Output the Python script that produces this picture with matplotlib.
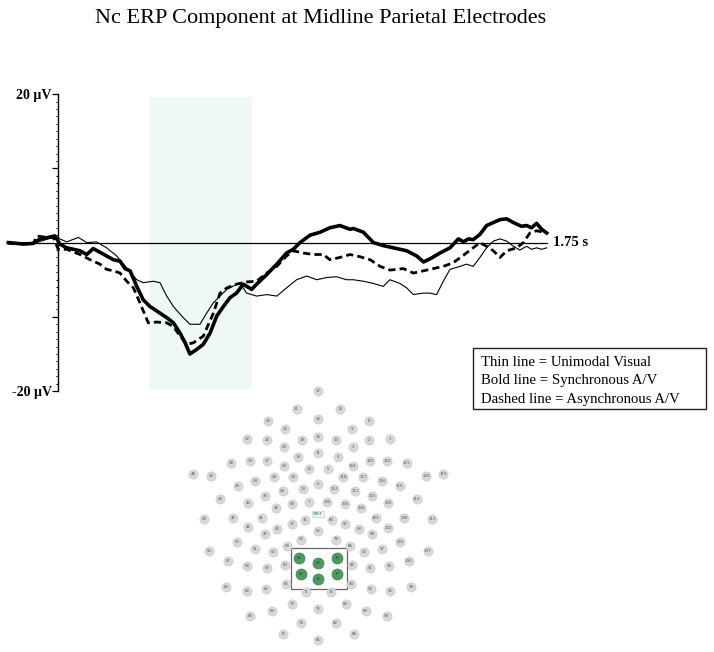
import matplotlib
matplotlib.use("Agg")
import matplotlib.pyplot as plt
from matplotlib.patches import Rectangle
from matplotlib.ticker import FixedLocator
import numpy as np

plt.rcParams['font.family'] = ['Liberation Serif', 'DejaVu Serif']

# ---------------- ERP data (time in ms, amplitude in µV) ----------------
sync_t = [-178, -148, -124, -88, -64, -35, -11, 7, 31, 79, 103, 126, 150, 198, 222, 240, 258,
          282, 305, 329, 365, 389, 413, 437, 455, 472, 496, 520, 544, 568, 592, 616, 639, 663,
          693, 711, 747, 783, 818, 842, 866, 902, 938, 973, 1009, 1045, 1057, 1093, 1129, 1164,
          1200, 1248, 1284, 1308, 1331, 1367, 1403, 1433, 1451, 1469, 1486, 1510, 1534, 1558,
          1582, 1606, 1630, 1659, 1677, 1695, 1713, 1731, 1749]
sync_v = [0.0, -0.1, -0.2, -0.1, 0.5, 0.7, 0.9, -0.2, -0.7, -1.1, -1.6, -0.8, -1.3, -2.3, -2.5,
          -3.5, -3.8, -5.9, -7.7, -8.6, -9.5, -10.1, -10.8, -12.2, -13.5, -15.0, -14.4, -13.7,
          -12.2, -9.9, -8.6, -7.4, -6.8, -5.6, -6.3, -5.6, -4.3, -2.9, -1.4, -0.9, 0.0, 1.0, 1.4,
          2.0, 2.3, 1.8, 1.9, 1.4, 0.0, -0.4, -0.7, -1.1, -1.8, -2.6, -2.2, -1.4, -0.7, 0.5, 0.1,
          0.5, 0.4, 1.1, 2.3, 2.7, 3.1, 3.2, 2.7, 2.2, 2.3, 2.0, 2.6, 1.8, 1.3]

visual_t = [-178, -136, -88, -52, -11, 31, 73, 103, 138, 174, 210, 246, 282, 305, 341, 365, 389,
            413, 443, 472, 508, 532, 556, 604, 651, 675, 711, 747, 783, 818, 854, 890, 926, 962,
            997, 1033, 1057, 1093, 1129, 1164, 1188, 1224, 1248, 1272, 1308, 1331, 1355, 1379,
            1403, 1439, 1462, 1486, 1510, 1534, 1558, 1582, 1606, 1630, 1653, 1677, 1695, 1713,
            1731, 1749]
visual_v = [0.0, -0.1, -0.1, 0.3, 0.8, 0.1, 0.7, 0.0, 0.1, -0.7, -1.8, -3.4, -5.0, -5.4, -5.2,
            -5.4, -7.2, -8.6, -9.9, -11.0, -11.0, -9.5, -8.1, -6.3, -5.4, -6.8, -7.2, -7.0, -7.2,
            -6.1, -5.0, -4.5, -5.0, -4.7, -4.6, -5.0, -5.0, -5.2, -5.5, -5.9, -5.0, -5.5, -6.1,
            -7.0, -6.8, -6.8, -7.0, -5.2, -3.6, -3.2, -2.9, -3.2, -2.0, -0.7, 0.2, 0.5, 0.2, -0.5,
            -1.0, -0.5, -0.9, -0.7, -0.9, -0.7]

async_t = [-178, -136, -88, -76, -41, -17, 1, 31, 79, 115, 150, 174, 198, 222, 246, 270, 293,
           323, 353, 389, 413, 437, 461, 484, 520, 556, 580, 604, 639, 675, 711, 747, 783, 818,
           842, 878, 914, 950, 973, 1009, 1045, 1081, 1117, 1153, 1188, 1236, 1272, 1308, 1343,
           1379, 1415, 1451, 1486, 1510, 1534, 1558, 1582, 1606, 1642, 1665, 1689, 1713, 1737]
async_v = [-0.1, -0.1, -0.1, 0.9, 0.7, 0.7, -0.9, -0.9, -1.6, -2.3, -2.9, -3.6, -3.8, -4.1,
           -5.2, -6.1, -8.1, -10.8, -10.7, -10.8, -11.3, -12.6, -13.7, -13.5, -12.6, -9.5, -6.8,
           -6.1, -5.6, -5.3, -5.2, -4.1, -3.2, -1.8, -1.1, -1.4, -1.6, -1.6, -2.3, -2.0, -1.6,
           -1.9, -2.3, -3.2, -3.7, -3.5, -4.1, -3.8, -3.5, -3.2, -2.7, -1.7, -0.7, 0.0, -0.5,
           -1.1, -2.0, -1.1, -0.7, 0.0, 1.3, 1.6, 1.4]

epoch_start_ms = -178
epoch_end_ms = 1750
window_ms = [327, 693]
window_uv = [-19.8, 19.6]
y_ticks_major = [-20, -10, 10, 20]
y_ticks_minor = list(range(-20, 21))
y_tick_labels = ['-20 µV', '', '', '20 µV']

title = "Nc ERP Component at Midline Parietal Electrodes"
legend_lines = ["Thin line = Unimodal Visual",
                "Bold line = Synchronous A/V",
                "Dashed line = Asynchronous A/V"]

# ---------------- Sensor layout (relative to VREF, up = positive) ----------------
elec_labels = ['17', '21', '14', '25', '15', '8', '22', '9', '32', '26', '18', '16', '10', '2', '1',
               '23', '3', '19', '11', '4', '24', '12', '5', '124', '27', '123', '33', '122', '38',
               '121', '48', '119', '43', '120', '28', '117', '20', '118', '6', '13', '112', '29',
               '111', '34', '116', '39', '115', '35', '110', '44', '114', '40', '109', '30', '105',
               '7', '106', '36', '104', '31', '80', '41', '103', '45', '108', '49', '113', '37',
               '87', '46', '102', '42', '93', '55', '47', '98', '54', '79', '50', '101', '53', '86',
               '56', '107', '51', '97', '52', '92', '57', '100', '58', '96', '59', '91', '60', '85',
               '63', '99', '64', '95', '65', '90', '66', '84', '71', '76', '70', '83', '75', '69',
               '89', '68', '94', '74', '82', '73', '88', '81']
elec_x = [0.0, -21.6, 21.7, -50.6, 0.0, 50.7, -33.3, 33.4, -71.0, -51.0, -16.6, 0.0, 17.4, 51.0,
          71.7, -34.3, 34.4, -20.0, 0.0, 20.0, -34.0, -9.3, 10.0, 34.4, -51.0, 51.7, -68.3, 69.0,
          -87.3, 88.4, -125.0, 125.0, -107.3, 107.7, -44.3, 45.0, -25.0, 25.0, 0.0, -15.6, 16.0,
          -35.6, 36.7, -63.3, 64.0, -80.6, 81.2, -53.3, 54.0, -98.3, 98.4, -70.0, 70.0, -26.1,
          26.7, -9.0, 9.0, -42.6, 42.7, -13.3, 13.4, -56.6, 57.4, -85.0, 85.7, -114.0, 114.0,
          -26.3, 26.7, -70.0, 70.0, -41.0, 40.7, 0.0, -53.3, 54.0, -17.3, 17.4, -81.6, 81.7,
          -31.0, 31.7, -109.0, 109.4, -63.3, 64.0, -45.6, 46.0, -90.0, 90.4, -71.0, 71.0, -51.6,
          51.7, -33.3, 33.4, -92.6, 92.7, -71.6, 71.7, -52.3, 52.4, -32.3, 32.7, -12.3, 13.0,
          -26.6, 27.4, 0.0, -46.6, 47.4, -68.3, 68.4, -17.3, 17.4, -35.6, 36.0, 0.0]
elec_y = [123.6, 105.3, 105.3, 93.6, 95.0, 93.3, 85.3, 85.3, 75.0, 74.3, 74.3, 77.0, 74.3, 74.3,
          75.0, 67.0, 67.0, 57.6, 61.6, 57.6, 48.6, 45.0, 45.0, 48.6, 53.6, 53.6, 53.6, 53.6, 51.0,
          51.0, 40.3, 40.3, 38.6, 38.6, 37.6, 37.6, 37.0, 37.0, 30.3, 25.0, 25.0, 23.3, 23.6, 32.8,
          32.8, 28.3, 28.3, 18.6, 18.6, 15.3, 15.3, 11.0, 11.0, 10.1, 10.3, 12.0, 12.0, 6.0, 6.0,
          -5.7, -5.7, -3.4, -3.4, -3.4, -3.4, -4.7, -4.7, -9.7, -9.7, -13.0, -13.4, -15.0, -15.0,
          -16.4, -20.0, -20.0, -25.2, -25.2, -27.4, -27.4, -31.7, -31.7, -36.4, -36.4, -35.0,
          -35.0, -37.4, -37.4, -46.4, -46.4, -51.7, -51.7, -54.0, -54.0, -50.7, -50.7, -73.0,
          -73.0, -76.4, -76.4, -75.0, -75.0, -69.7, -69.7, -78.0, -78.0, -89.7, -89.7, -94.4,
          -96.7, -96.7, -101.4, -101.4, -108.4, -108.4, -119.7, -119.7, -125.7]
roi_labels = ['61', '62', '78', '67', '72', '77']
roi_x = [-19.0, 0.0, 18.4, -17.3, 0.0, 18.4]
roi_y = [-43.4, -48.4, -43.4, -59.7, -64.4, -59.7]
roi_box_x = [-27.3, 29.0]
roi_box_y = [-74.4, -34.0]

# ---------------- Figure ----------------
W, H = 714, 652
fig = plt.figure(figsize=(W / 100, H / 100), dpi=100)

# ERP axes (pixel 0..714 horizontally, 60..400 vertically)
ax = fig.add_axes([0, (H - 400) / H, 1, 340 / H])
ax.set_facecolor('none')
ax.set_xlim(-207.6, 2347.9)
ax.set_ylim(-21.2, 24.6)
for s in ['top', 'right', 'bottom']:
    ax.spines[s].set_visible(False)
ax.spines['left'].set_position(('data', 0))
ax.spines['left'].set_bounds(-20, 20)
ax.spines['left'].set_linewidth(1.0)
ax.set_xticks([])
ax.set_yticks(y_ticks_major)
ax.set_yticklabels(y_tick_labels, fontsize=10, fontweight='bold')
ax.yaxis.set_minor_locator(FixedLocator(y_ticks_minor))
ax.tick_params(axis='y', which='major', length=4, width=0.9, pad=0.5)
ax.tick_params(axis='y', which='minor', length=1.5, width=0.8)

ax.fill_between(window_ms, window_uv[0], window_uv[1], color='#eef8f6', lw=0, zorder=0)
ax.plot([epoch_start_ms, epoch_end_ms], [0, 0], color='black', lw=0.9, zorder=2)
ax.plot(visual_t, visual_v, color='black', lw=0.8, zorder=3)
ax.plot(async_t, async_v, color='black', lw=2.0, dashes=(2.6, 1.5), zorder=3)
ax.plot(sync_t, sync_v, color='black', lw=2.6, solid_joinstyle='round', zorder=4)
ax.text(epoch_end_ms + 20, 0, '1.75 s', fontsize=10.5, fontweight='bold', va='center', ha='left')

# Overlay axes in figure pixels for title and legend
ov = fig.add_axes([0, 0, 1, 1])
ov.set_xlim(0, W)
ov.set_ylim(H, 0)
ov.axis('off')
ov.set_facecolor('none')
ov.text(321, 18, title, fontsize=16, ha='center', va='center')
ov.add_patch(Rectangle((472.5, 347.5), 233, 61, fill=False, edgecolor='#222222', lw=1.0))
for i, line in enumerate(legend_lines):
    ov.text(481, 362.7 + 18.2 * i, line, fontsize=10.6, ha='left', va='center')

# Sensor map axes (1 unit = 1 px), centered on VREF at px (318.3, 514.3)
cx, cy = 318.3, 514.3
x0, x1, y0, y1 = 170, 470, 380, 650
m = fig.add_axes([x0 / W, (H - y1) / H, (x1 - x0) / W, (y1 - y0) / H])
m.set_xlim(x0 - cx, x1 - cx)
m.set_ylim(cy - y1, cy - y0)
m.axis('off')
m.set_facecolor('none')
m.scatter(elec_x, elec_y, s=44, color='#d8d8d8', edgecolors='#c6c6c6', linewidths=0.4, zorder=2)
for lab, x, y in zip(elec_labels, elec_x, elec_y):
    m.text(x, y, lab, fontsize=2.8, ha='center', va='center', color='#555555',
           family='DejaVu Sans', zorder=3)
m.text(0, 0, 'VREF', fontsize=2.8, ha='center', va='center', color='#4a6a6a', family='DejaVu Sans',
       bbox=dict(boxstyle='square,pad=0.3', fc='#eef6f6', ec='#a8cccc', lw=0.4), zorder=3)
m.add_patch(Rectangle((roi_box_x[0], roi_box_y[0]), roi_box_x[1] - roi_box_x[0],
                      roi_box_y[1] - roi_box_y[0], fill=False, edgecolor='#666666', lw=0.9, zorder=1))
m.scatter(roi_x, roi_y, s=62, color='#4f9a62', edgecolors='#3b7d4c', linewidths=0.5, zorder=2)
for lab, x, y in zip(roi_labels, roi_x, roi_y):
    m.text(x, y, lab, fontsize=2.8, ha='center', va='center', color='#1f4a2a',
           family='DejaVu Sans', zorder=3)

fig.savefig('out.png', dpi=100)
